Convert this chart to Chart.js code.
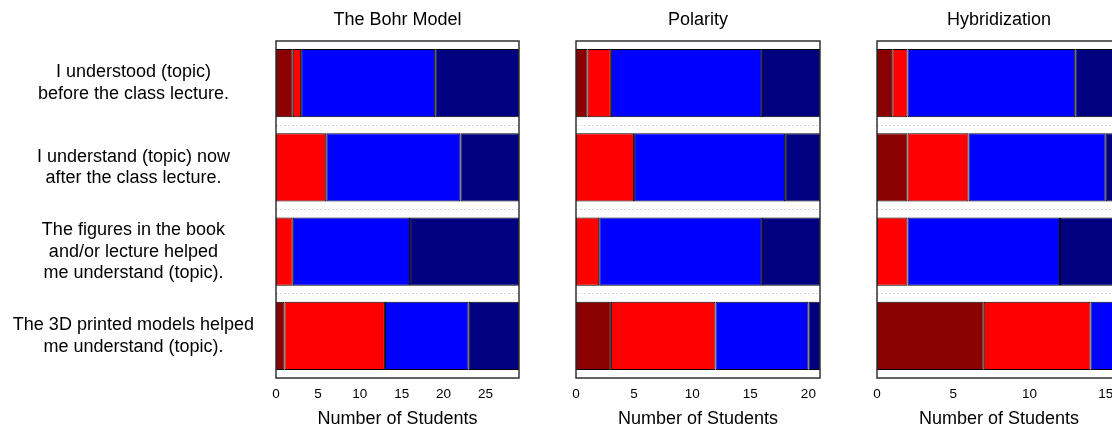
<!DOCTYPE html>
<html>
<head>
<meta charset="utf-8">
<script src="https://cdn.jsdelivr.net/npm/chart.js@4.4.1/dist/chart.umd.min.js"></script>
<style>
  html, body { margin: 0; padding: 0; background: #fff; overflow: hidden; }
  body { width: 1112px; height: 430px; position: relative; }
  .panel { position: absolute; top: 0; }
  .panel canvas { display: block; }
</style>
</head>
<body>
<div class="panel" style="left:0px"><canvas id="bohr" width="530" height="430"></canvas></div>
<div class="panel" style="left:546px"><canvas id="polarity" width="285" height="430"></canvas></div>
<div class="panel" style="left:847px"><canvas id="hybrid" width="285" height="430"></canvas></div>
<script>
// survey statements, top to bottom
const statements = [
  ['I understood (topic)', 'before the class lecture.'],
  ['I understand (topic) now', 'after the class lecture.'],
  ['The figures in the book', 'and/or lecture helped', 'me understand (topic).'],
  ['The 3D printed models helped', 'me understand (topic).'],
];
const levels = ['Strongly disagree', 'Disagree', 'Agree', 'Strongly agree'];
const levelColors = ['#8B0000', '#FF0000', '#0000FF', '#000080'];

// The Bohr Model (29 students)
const bohrStronglyDisagree = [2, 0, 0, 1];
const bohrDisagree = [1, 6, 2, 12];
const bohrAgree = [16, 16, 14, 10];
const bohrStronglyAgree = [10, 7, 13, 6];

// Polarity (21 students)
const polarityStronglyDisagree = [1, 0, 0, 3];
const polarityDisagree = [2, 5, 2, 9];
const polarityAgree = [13, 13, 14, 8];
const polarityStronglyAgree = [5, 3, 5, 1];

// Hybridization (16 students)
const hybridStronglyDisagree = [1, 2, 0, 7];
const hybridDisagree = [1, 4, 2, 7];
const hybridAgree = [11, 9, 10, 2];
const hybridStronglyAgree = [3, 1, 4, 0];

const FONT = "'Liberation Sans', Arial, sans-serif";

// box round the plot area, like R's box()
const frame = {
  id: 'frame',
  afterDraw(chart) {
    const { ctx, chartArea: a } = chart;
    ctx.save();
    ctx.strokeStyle = '#333';
    ctx.lineWidth = 1.5;
    ctx.strokeRect(a.left, a.top, a.right - a.left, a.bottom - a.top);
    ctx.restore();
  },
};

const makePanel = (id, title, max, series, showLabels) => {
  new Chart(document.getElementById(id), {
    type: 'bar',
    data: {
      labels: statements,
      datasets: series.map((data, i) => ({
        label: levels[i],
        data: data,
        backgroundColor: levelColors[i],
        borderColor: '#000',
        borderWidth: 1,
        borderSkipped: false,
        barPercentage: 0.81,
        categoryPercentage: 1,
      })),
    },
    options: {
      indexAxis: 'y',
      responsive: false,
      animation: false,
      layout: { padding: { left: 0, right: 11, top: 0, bottom: 0 } },
      plugins: {
        legend: { display: false },
        tooltip: { enabled: false },
        title: {
          display: true,
          text: title,
          fullSize: false,
          color: '#000',
          font: { family: FONT, size: 18, weight: 'normal', lineHeight: 1.2 },
          padding: { top: 9, bottom: 10.4 },
        },
      },
      scales: {
        x: {
          type: 'linear',
          stacked: true,
          min: 0,
          max: max,
          grid: { display: false, drawTicks: false },
          border: { display: false },
          afterBuildTicks: (s) => {
            s.ticks = s.ticks.filter((t) => t.value % 5 === 0);
          },
          afterFit: (s) => {
            s.height = 52;
          },
          ticks: {
            stepSize: 5,
            includeBounds: false,
            color: '#000',
            padding: 8,
            maxRotation: 0,
            autoSkip: false,
            font: { family: FONT, size: 13.5 },
          },
          title: {
            display: true,
            text: 'Number of Students',
            color: '#000',
            font: { family: FONT, size: 18, lineHeight: 1 },
            padding: { top: 14, bottom: 2 },
          },
        },
        y: {
          type: 'category',
          stacked: true,
          offset: true,
          grid: { offset: true, color: '#d4d4d4', drawTicks: false },
          border: { display: false, dash: [2, 2] },
          afterFit: (s) => {
            s.width = showLabels ? 276 : 30;
            // labels sit inside the bar slots, no extra room needed above/below
            s.paddingTop = 0;
            s.paddingBottom = 0;
          },
          ticks: {
            display: showLabels,
            color: '#000',
            padding: 22,
            crossAlign: 'center',
            font: { family: FONT, size: 18, lineHeight: 1.2 },
          },
        },
      },
    },
    plugins: [frame],
  });
};

makePanel('bohr', 'The Bohr Model', 29,
  [bohrStronglyDisagree, bohrDisagree, bohrAgree, bohrStronglyAgree], true);
makePanel('polarity', 'Polarity', 21,
  [polarityStronglyDisagree, polarityDisagree, polarityAgree, polarityStronglyAgree], false);
makePanel('hybrid', 'Hybridization', 16,
  [hybridStronglyDisagree, hybridDisagree, hybridAgree, hybridStronglyAgree], false);
</script>
</body>
</html>
